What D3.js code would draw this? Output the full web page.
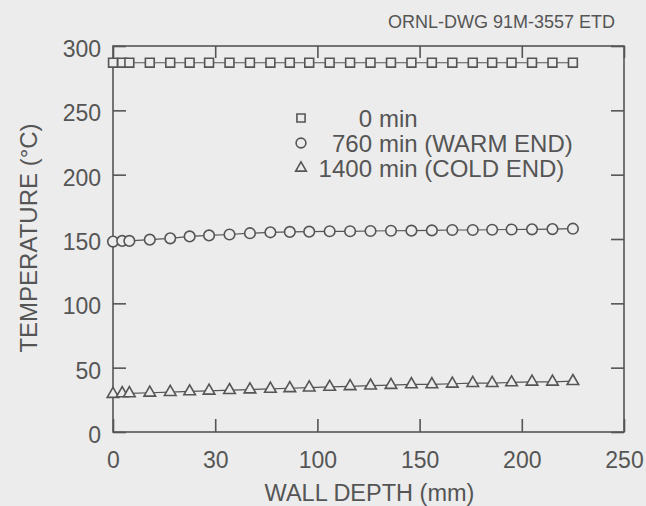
<!DOCTYPE html>
<html>
<head>
<meta charset="utf-8">
<title>Wall temperature profiles</title>
<script src="https://cdn.jsdelivr.net/npm/d3@7"></script>
<style>
  body { margin: 0; background: #ececec; }
  svg { display: block; font-family: "Liberation Sans", Arial, sans-serif; }
</style>
</head>
<body>
<svg id="chart" width="646" height="506"></svg>
<script>
// wall depth of each thermocouple (mm)
var depth = [0, 4.5, 8, 18, 28, 37.5, 47, 57, 67, 77, 86.5, 96, 106, 116, 126, 136, 146, 156, 166, 176, 185.5, 195, 205, 215, 225];

// temperatures (deg C)
var t0 = [287, 287, 287, 287, 287, 287, 287, 287, 287, 287, 287, 287, 287, 287, 287, 287, 287, 287, 287, 287, 287, 287, 287, 287, 287];
var t760 = [148, 148.5, 148.5, 149.5, 150.5, 152, 152.8, 153.5, 154.5, 155.2, 155.5, 155.7, 156, 156, 156.2, 156.4, 156.5, 156.7, 157, 157, 157.2, 157.4, 157.5, 157.7, 158];
var t1400 = [29.5, 30, 30, 30.5, 31, 31.5, 32, 32.5, 33, 33.5, 34, 34.5, 35, 35.5, 36, 36.5, 37, 37, 37.5, 38, 38, 38.5, 39, 39, 39.5];

var seriesNames = ["0 min", "760 min (WARM END)", "1400 min (COLD END)"];
var seriesNums = ["0", "760", "1400"];
var seriesRest = ["min", "min (WARM END)", "min (COLD END)"];

var xTicks = [0, 50, 100, 150, 200, 250];
var xTickLabels = ["0", "30", "100", "150", "200", "250"];   // "30" as printed on the drawing
var yTicks = [0, 50, 100, 150, 200, 250, 300];

var ink = "#555";
var svg = d3.select("#chart");

// plot frame in px (don't call these top/left: window.top is read-only)
var frameL = 113, frameR = 624, frameT = 46, frameB = 432;

var x = d3.scaleLinear().domain([0, 250]).range([frameL, frameR]);
var y = d3.scaleLinear().domain([0, 300]).range([frameB, frameT]);

// frame
svg.append("rect")
  .attr("x", frameL).attr("y", frameT)
  .attr("width", frameR - frameL).attr("height", frameB - frameT)
  .attr("fill", "none").attr("stroke", ink).attr("stroke-width", 1.6);

function styleAxis(g, showText) {
  g.select(".domain").remove();
  g.selectAll(".tick line").attr("stroke", ink).attr("stroke-width", 1.6);
  g.selectAll(".tick text")
    .attr("fill", ink)
    .style("font-size", "23px")
    .style("display", showText ? null : "none");
}

// inward ticks on all four sides
svg.append("g")
  .attr("transform", "translate(0," + frameB + ")")
  .call(d3.axisBottom(x).tickValues(xTicks).tickSize(-13).tickPadding(0)
    .tickFormat(function(d, i) { return xTickLabels[i]; }))
  .call(function(g) { styleAxis(g, true); })
  .selectAll(".tick text").attr("y", 36).attr("dy", 0);

svg.append("g")
  .attr("transform", "translate(0," + frameT + ")")
  .call(d3.axisTop(x).tickValues(xTicks).tickSize(-12))
  .call(function(g) { styleAxis(g, false); });

svg.append("g")
  .attr("transform", "translate(" + frameL + ",0)")
  .call(d3.axisLeft(y).tickValues(yTicks).tickSize(-13).tickPadding(12)
    .tickFormat(d3.format("d")))
  .call(function(g) { styleAxis(g, true); })
  .selectAll(".tick text").attr("dy", "0.46em");

svg.append("g")
  .attr("transform", "translate(" + frameR + ",0)")
  .call(d3.axisRight(y).tickValues(yTicks).tickSize(-13))
  .call(function(g) { styleAxis(g, false); });

// axis titles
svg.append("text")
  .attr("x", (frameL + frameR) / 2 + 1).attr("y", 501)
  .attr("text-anchor", "middle")
  .attr("fill", ink).style("font-size", "23.5px")
  .text("WALL DEPTH (mm)");

svg.append("text")
  .attr("transform", "translate(37,238)rotate(-90)")
  .attr("text-anchor", "middle")
  .attr("fill", ink).style("font-size", "24px")
  .text("TEMPERATURE (\u00B0C)");

// drawing number
svg.append("text")
  .attr("x", 615).attr("y", 28)
  .attr("text-anchor", "end")
  .attr("fill", ink).style("font-size", "18px")
  .text("ORNL-DWG 91M-3557 ETD");

// series
var series = [
  { name: seriesNames[0], values: t0, symbol: d3.symbolSquare, size: 78 },
  { name: seriesNames[1], values: t760, symbol: d3.symbolCircle, size: 88 },
  { name: seriesNames[2], values: t1400, symbol: d3.symbolTriangle, size: 58 }
];

var line = d3.line()
  .x(function(d) { return x(d[0]); })
  .y(function(d) { return y(d[1]); });

series.forEach(function(s) {
  var pts = depth.map(function(d, i) { return [d, s.values[i]]; });

  svg.append("path")
    .datum(pts)
    .attr("d", line)
    .attr("fill", "none")
    .attr("stroke", ink)
    .attr("stroke-width", 1.2);

  svg.append("g")
    .selectAll("path")
    .data(pts)
    .enter()
    .append("path")
      .attr("transform", function(d) { return "translate(" + x(d[0]) + "," + y(d[1]) + ")"; })
      .attr("d", d3.symbol().type(s.symbol).size(s.size))
      .attr("fill", "#ececec")
      .attr("stroke", ink)
      .attr("stroke-width", 1.6);
});

// legend
var legendY = [118, 143, 168];
series.forEach(function(s, i) {
  svg.append("path")
    .attr("transform", "translate(301," + legendY[i] + ")")
    .attr("d", d3.symbol().type(s.symbol).size(s.size * 0.85))
    .attr("fill", "none")
    .attr("stroke", ink)
    .attr("stroke-width", 1.6);

  svg.append("text")
    .attr("x", 372).attr("y", legendY[i] + 8.5)
    .attr("text-anchor", "end")
    .attr("fill", ink).style("font-size", "24px")
    .text(seriesNums[i]);

  svg.append("text")
    .attr("x", 379).attr("y", legendY[i] + 8.5)
    .attr("fill", ink).style("font-size", "24px")
    .text(seriesRest[i]);
});
</script>
</body>
</html>
